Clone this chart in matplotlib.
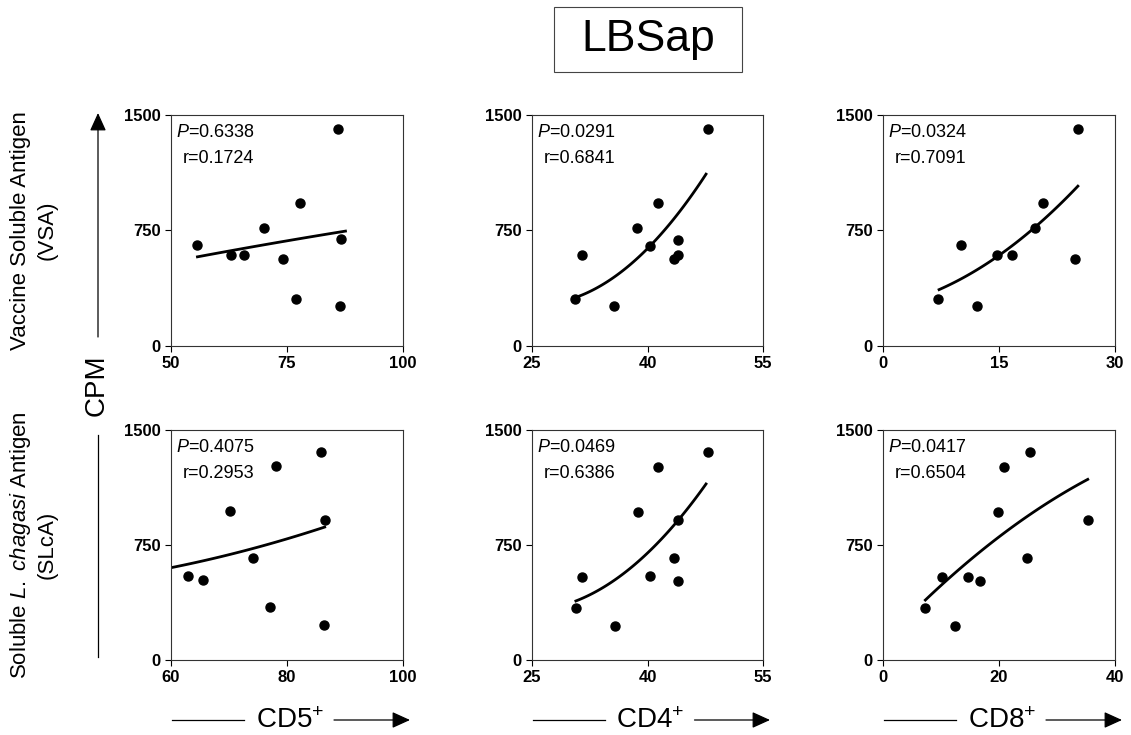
import numpy as np
import matplotlib
matplotlib.use('Agg')
import matplotlib.pyplot as plt
from matplotlib.patches import Rectangle

plt.rcParams['font.family'] = ['Liberation Sans', 'DejaVu Sans']
plt.rcParams['mathtext.fontset'] = 'custom'
plt.rcParams['mathtext.rm'] = 'Liberation Sans'
plt.rcParams['mathtext.it'] = 'Liberation Sans:italic'
plt.rcParams['mathtext.bf'] = 'Liberation Sans:bold'

# --- data ---
x_cd5_vsa = [55.7, 62.9, 65.7, 70.1, 74.2, 77.9, 77.0, 85.9, 86.6, 86.4]
y_cd5_vsa = [655, 590, 594, 763, 568, 926, 306, 1407, 692, 258]
x_cd4_vsa = [30.6, 31.5, 35.7, 38.7, 40.3, 41.4, 43.4, 43.9, 44.0, 47.8]
y_cd4_vsa = [303, 590, 258, 763, 650, 926, 568, 590, 687, 1407]
x_cd8_vsa = [7.1, 10.1, 12.2, 14.7, 16.7, 19.7, 20.7, 24.8, 25.2]
y_cd8_vsa = [303, 655, 258, 594, 594, 763, 926, 568, 1407]

x_cd5_slca = [62.9, 65.6, 70.2, 74.2, 77.0, 78.1, 85.9, 86.6, 86.4]
y_cd5_slca = [550, 522, 970, 667, 348, 1267, 1359, 911, 228]
x_cd4_slca = [30.7, 31.5, 35.8, 38.8, 40.3, 41.4, 43.5, 44.0, 44.0, 47.8]
y_cd4_slca = [341, 543, 224, 965, 548, 1261, 667, 911, 515, 1357]
x_cd8_slca = [7.3, 10.2, 12.4, 14.7, 16.8, 19.9, 20.8, 24.9, 25.3, 35.3]
y_cd8_slca = [341, 543, 224, 543, 515, 965, 1261, 667, 1357, 911]

# fitted curves (start, middle, end)
fitx_cd5_vsa = [55.7, 70.6, 87.6]
fity_cd5_vsa = [579, 660, 746]
fitx_cd4_vsa = [30.6, 40.3, 47.6]
fity_cd4_vsa = [314, 648, 1116]
fitx_cd8_vsa = [7.25, 14.7, 25.2]
fity_cd8_vsa = [366, 578, 1038]
fitx_cd5_slca = [60, 74.2, 86.5]
fity_cd5_slca = [602, 728, 867]
fitx_cd4_slca = [30.7, 40.3, 47.6]
fity_cd4_slca = [385, 712, 1148]
fitx_cd8_slca = [7.3, 19.9, 35.3]
fity_cd8_slca = [391, 800, 1178]

p_values = [['0.6338', '0.0291', '0.0324'], ['0.4075', '0.0469', '0.0417']]
r_values = [['0.1724', '0.6841', '0.7091'], ['0.2953', '0.6386', '0.6504']]

xticks = [[[50, 75, 100], [25, 40, 55], [0, 15, 30]],
          [[60, 80, 100], [25, 40, 55], [0, 20, 40]]]
yticks = [0, 750, 1500]

points = [[(x_cd5_vsa, y_cd5_vsa), (x_cd4_vsa, y_cd4_vsa), (x_cd8_vsa, y_cd8_vsa)],
          [(x_cd5_slca, y_cd5_slca), (x_cd4_slca, y_cd4_slca), (x_cd8_slca, y_cd8_slca)]]
fits = [[(fitx_cd5_vsa, fity_cd5_vsa), (fitx_cd4_vsa, fity_cd4_vsa), (fitx_cd8_vsa, fity_cd8_vsa)],
        [(fitx_cd5_slca, fity_cd5_slca), (fitx_cd4_slca, fity_cd4_slca), (fitx_cd8_slca, fity_cd8_slca)]]

col_labels = ['CD5$^{+}$', 'CD4$^{+}$', 'CD8$^{+}$']
row_labels = [('Vaccine Soluble Antigen', '(VSA)'),
              ('Soluble $\\mathit{L.\\ chagasi}$ Antigen', '(SLcA)')]

W, H = 1131, 735
fig = plt.figure(figsize=(W / 100, H / 100), dpi=100)

def fx(px):
    return px / W

def fy(py):
    return 1 - py / H

col_left = [171, 532, 883]
col_right = [403, 763, 1115]
row_top = [115, 430]
row_bottom = [346, 660]

for i in range(2):
    for j in range(3):
        ax = fig.add_axes([fx(col_left[j]), fy(row_bottom[i]),
                           (col_right[j] - col_left[j]) / W,
                           (row_bottom[i] - row_top[i]) / H])
        xs, ys = points[i][j]
        ax.plot(xs, ys, 'o', color='black', markersize=6.5, clip_on=False, zorder=3)
        fxs, fys = fits[i][j]
        coef = np.polyfit(fxs, fys, 2)
        xx = np.linspace(fxs[0], fxs[-1], 100)
        ax.plot(xx, np.polyval(coef, xx), color='black', linewidth=2)
        ax.set_xlim(xticks[i][j][0], xticks[i][j][-1])
        ax.set_ylim(0, 1500)
        ax.set_xticks(xticks[i][j])
        ax.set_yticks(yticks)
        ax.tick_params(direction='out', length=4.5, width=0.8, pad=3, labelsize=12,
                       top=False, right=False)
        for lab in ax.get_xticklabels() + ax.get_yticklabels():
            lab.set_fontweight('bold')
        for s in ax.spines.values():
            s.set_linewidth(0.8)
            s.set_color('#333333')
        w = col_right[j] - col_left[j]
        h = row_bottom[i] - row_top[i]
        ax.text(5 / w, 1 - 22 / h, '$P$=' + p_values[i][j], transform=ax.transAxes,
                fontsize=13, va='baseline', ha='left')
        ax.text(12 / w, 1 - 48 / h, 'r=' + r_values[i][j], transform=ax.transAxes,
                fontsize=13, va='baseline', ha='left')

# title in a box
fig.text(fx(648), fy(40), 'LBSap', fontsize=32, ha='center', va='center')
fig.add_artist(Rectangle((fx(554), fy(72)), (742 - 554) / W, (72 - 7) / H,
                         transform=fig.transFigure, fill=False,
                         edgecolor='#444444', linewidth=0.8))

# row labels
for i in range(2):
    yc = (row_top[i] + row_bottom[i]) / 2
    fig.text(fx(21), fy(yc), row_labels[i][0], rotation=90, fontsize=16,
             ha='center', va='center')
    fig.text(fx(47), fy(yc), row_labels[i][1], rotation=90, fontsize=16,
             ha='center', va='center')

# CPM label with arrow
fig.text(fx(97), fy(385), 'CPM', rotation=90, fontsize=20, ha='center', va='center')
arrow_style = dict(arrowstyle='-|>,head_length=0.55,head_width=0.25', color='black',
                   linewidth=0.9, mutation_scale=20, shrinkA=0, shrinkB=0)
fig.add_artist(plt.Line2D([fx(98), fx(98)], [fy(657), fy(435)], color='black',
                          linewidth=0.9, transform=fig.transFigure))
fig.patches.append(matplotlib.patches.FancyArrowPatch(
    (fx(98), fy(337)), (fx(98), fy(113)), transform=fig.transFigure, **arrow_style))

# x axis labels with arrows
for j in range(3):
    xc = (col_left[j] + col_right[j]) / 2 + 3
    fig.text(fx(xc), fy(721), col_labels[j], fontsize=20, ha='center', va='center')
    fig.add_artist(plt.Line2D([fx(col_left[j] + 1), fx(xc - 46)], [fy(720), fy(720)],
                              color='black', linewidth=0.9, transform=fig.transFigure))
    fig.patches.append(matplotlib.patches.FancyArrowPatch(
        (fx(xc + 44), fy(720)), (fx(col_right[j] + 7), fy(720)),
        transform=fig.transFigure, **arrow_style))

fig.savefig('out.png', dpi=100)
